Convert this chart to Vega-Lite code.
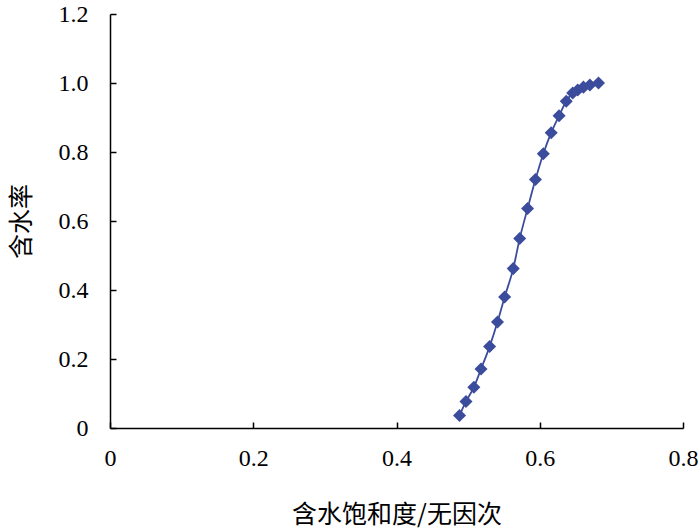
{
  "$schema": "https://vega.github.io/schema/vega-lite/v6.json",
  "autosize": "none",
  "width": 573,
  "height": 414,
  "padding": {"left": 110, "top": 14, "right": 17, "bottom": 101},
  "background": "white",
  "config": {
    "view": {"stroke": null},
    "font": "Liberation Serif",
    "axis": {
      "grid": false,
      "domainColor": "#000000",
      "domainWidth": 1.5,
      "tickColor": "#000000",
      "tickWidth": 1.5,
      "tickSize": -6,
      "labelFlush": false,
      "labelOverlap": false,
      "labelFont": "Liberation Serif",
      "labelFontSize": 24,
      "labelColor": "#000000",
      "titleFont": "Noto Sans CJK SC",
      "titleFontSize": 25,
      "titleFontWeight": "normal",
      "titleColor": "#000000"
    }
  },
  "data": {
    "values": [
      {"s": 0.488, "f": 0.036},
      {"s": 0.497, "f": 0.077},
      {"s": 0.508, "f": 0.118},
      {"s": 0.518, "f": 0.171},
      {"s": 0.530, "f": 0.236},
      {"s": 0.541, "f": 0.307},
      {"s": 0.551, "f": 0.380},
      {"s": 0.563, "f": 0.462},
      {"s": 0.572, "f": 0.549},
      {"s": 0.583, "f": 0.636},
      {"s": 0.594, "f": 0.720},
      {"s": 0.605, "f": 0.795},
      {"s": 0.616, "f": 0.856},
      {"s": 0.627, "f": 0.905},
      {"s": 0.637, "f": 0.947},
      {"s": 0.646, "f": 0.971},
      {"s": 0.653, "f": 0.980},
      {"s": 0.661, "f": 0.988},
      {"s": 0.670, "f": 0.994},
      {"s": 0.682, "f": 1.0}
    ]
  },
  "encoding": {
    "x": {
      "field": "s", "type": "quantitative",
      "scale": {"domain": [0, 0.8], "nice": false, "zero": false},
      "axis": {"values": [0, 0.2, 0.4, 0.6, 0.8], "labelExpr": "datum.value == 0 ? '0' : format(datum.value, '.1f')", "labelPadding": 24, "title": "含水饱和度/无因次", "titleY": 86, "titleBaseline": "middle"}
    },
    "y": {
      "field": "f", "type": "quantitative",
      "scale": {"domain": [0, 1.2], "nice": false},
      "axis": {"values": [0, 0.2, 0.4, 0.6, 0.8, 1.0, 1.2], "labelExpr": "datum.value == 0 ? '0' : format(datum.value, '.1f')", "labelPadding": 28, "title": "含水率", "titleX": -89, "titleBaseline": "middle"}
    }
  },
  "layer": [
    {"mark": {"type": "line", "color": "#3C4C9C", "strokeWidth": 1.8, "interpolate": "monotone"}},
    {"mark": {"type": "point", "shape": "diamond", "filled": true, "opacity": 1, "color": "#3C4C9C", "size": 170}}
  ]
}
